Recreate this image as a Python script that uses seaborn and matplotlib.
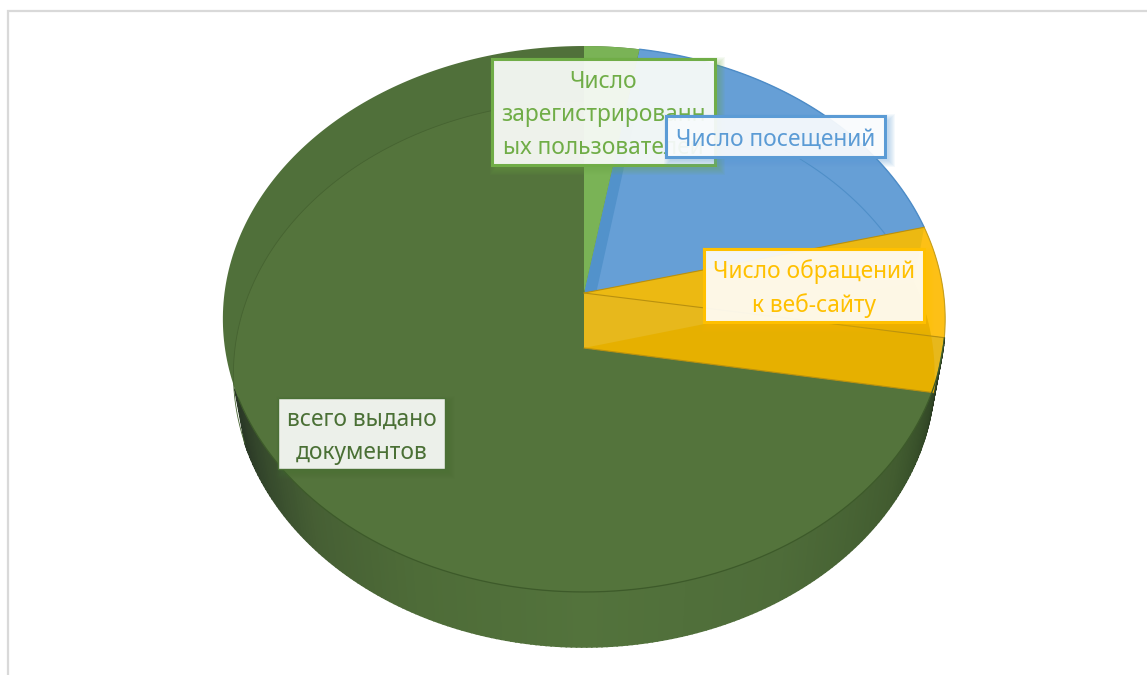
import numpy as np
import matplotlib.pyplot as plt
from matplotlib.patches import Polygon, Rectangle
import seaborn as sns

# slices clockwise from 12 o'clock (%)
labels = [
    "Число\nзарегистрированн\nых пользователей",
    "Число посещений",
    "Число обращений\nк веб-сайту",
    "всего выдано\nдокументов",
]
shares = [2.7, 18.3, 6.6, 72.4]
palette = sns.color_palette(["#7ab356", "#669fd6", "#ffc000", "#54743c"])
text_colors = ["#70ad47", "#5b9bd5", "#ffc000", "#4a7035"]

sns.set_theme(style="white")
plt.rcParams["font.family"] = ["Noto Sans", "DejaVu Sans"]

fig, ax = plt.subplots(figsize=(11.47, 6.75), dpi=100)
fig.subplots_adjust(0, 0, 1, 1)
ax.set_xlim(0, 1147)
ax.set_ylim(675, 0)
ax.axis("off")

CX = 584
TOP_Y, BOT_Y = 293, 348
TOP_W, BOT_W = 359.5, 349
H = 270.5
K = 0.0952


def rim(theta, apex_y, w):
    # perspective circle, theta in degrees clockwise from the top
    t = np.radians(theta)
    d = 1 + K * np.cos(t)
    return CX + w * np.sin(t) / d, apex_y - H * np.cos(t) / d


def top(theta):
    return rim(theta, TOP_Y, TOP_W)


def bot(theta):
    return rim(theta, BOT_Y, BOT_W)


def wedge(a, b, rim_fn, apex_y):
    x, y = rim_fn(np.linspace(a, b, 120))
    return np.column_stack([np.r_[CX, x], np.r_[apex_y, y]])


def wall(a):
    # radial wall of the slice edge at angle a
    tx, ty = top(a)
    bx, by = bot(a)
    return [[CX, TOP_Y], [tx, ty], [bx, by], [CX, BOT_Y]]


edges = np.cumsum([0] + shares) * 3.6
a_green, a_blue, a_orange = edges[1], edges[2], edges[3]

# frame of the screenshot
ax.plot([8, 8, 1147], [675, 11, 11], color="#d9d9d9", lw=1.6, solid_joinstyle="miter")

# outer wall of the big slice, shaded along the rim
stops_t = [a_orange, 110, 125, 150, 180, 205, 225, 238, 250]
stops_r = [30, 50, 66, 78, 83, 78, 70, 55, 42]
stops_g = [38, 72, 92, 108, 115, 108, 95, 75, 56]
stops_b = [25, 38, 48, 57, 60, 56, 52, 45, 38]
tw = np.linspace(a_orange, 250, 200)
for t0, t1 in zip(tw[:-1], tw[1:]):
    xa, ya = top(np.array([t0, t1]))
    xb, yb = bot(np.array([t1, t0]))
    tm = (t0 + t1) / 2
    c = np.array([np.interp(tm, stops_t, s) for s in (stops_r, stops_g, stops_b)]) / 255
    ax.fill(np.r_[xa, xb], np.r_[ya, yb], color=c, lw=1.2, zorder=1)

# top face of the big slice, a bit lighter where the bottom disc shows through
x, y = top(np.linspace(0, 360, 361))
top_disc = ax.fill(x, y, color="#50703a", lw=0, zorder=2)[0]
x, y = bot(np.linspace(0, 360, 361))
inner = ax.fill(x, y, color=palette[3], lw=0, zorder=3)[0]
inner.set_clip_path(top_disc)

# small slices
blue_face = Polygon(wedge(a_green, a_blue, top, TOP_Y), color=palette[1], lw=0, zorder=4)
ax.add_patch(blue_face)
strip = Polygon(wedge(0, a_green, bot, BOT_Y), color="#5292cb", lw=0, zorder=5)
ax.add_patch(strip)
strip.set_clip_path(blue_face)
ax.add_patch(Polygon(wedge(0, a_green, top, TOP_Y), color=palette[0], lw=0, zorder=6))

x, y = bot(np.linspace(a_green + 20, a_blue, 60))
ax.plot(x, y, color="#4f8fc8", lw=0.8, zorder=6)
x, y = top(np.linspace(a_green, a_blue, 80))
ax.plot(x, y, color="#4d8cc8", lw=1, zorder=6)

ax.add_patch(Polygon(wedge(a_blue, a_orange, top, TOP_Y), color="#fdc016", lw=0, zorder=7))
ax.add_patch(Polygon(wall(a_blue), color="#ecb912", lw=0, zorder=8))
ax.add_patch(Polygon(wall(a_orange), color="#e7b81c", lw=0, zorder=9))
ax.add_patch(Polygon(wedge(a_blue, a_orange, bot, BOT_Y), color="#e6b000", lw=0, zorder=10))

# slice edges
for a, rim_fn, apex_y in [(a_blue, top, TOP_Y), (a_orange, top, TOP_Y), (a_orange, bot, BOT_Y)]:
    ex, ey = rim_fn(a)
    ax.plot([CX, ex], [apex_y, ey], color="#b8900f", lw=0.8, zorder=11)
x, y = top(np.linspace(a_blue, a_orange, 40))
ax.plot(x, y, color="#c9a01c", lw=0.8, zorder=11)

# rim lines of the big slice
x, y = top(np.linspace(a_orange, 248, 200))
ax.plot(x, y, color="#3d5a2a", lw=0.9, zorder=11)
x, y = bot(np.linspace(250, 360, 110))
ax.plot(x, y, color="#466331", lw=0.6, zorder=11)
ax.plot([CX, CX], [46, BOT_Y], color="#4a6834", lw=0.5, zorder=5)


def label_box(x0, y0, x1, y1, txt, color, alpha, lw, z, shadow=0.06):
    # soft shadow made of growing rectangles, mostly to the lower right
    for i in range(1, 8):
        ax.add_patch(Rectangle((x0 + 5 - i, y0 + 5 - i), x1 - x0 + 2 * i - 2, y1 - y0 + 2 * i - 2,
                               color=color, alpha=shadow, lw=0, zorder=z))
    ax.add_patch(Rectangle((x0, y0), x1 - x0, y1 - y0, facecolor="white", alpha=alpha,
                           edgecolor="none", zorder=z))
    ax.add_patch(Rectangle((x0, y0), x1 - x0, y1 - y0, fill=False, edgecolor=color,
                           lw=lw, zorder=z))
    ax.text((x0 + x1) / 2, (y0 + y1) / 2 + 3, txt, color=color, ha="center", va="center",
            fontsize=16.4, linespacing=1.5, zorder=z)


label_box(492, 59, 715, 165, labels[0], text_colors[0], 0.9, 2.2, 20)
label_box(666, 116, 885, 157, labels[1], text_colors[1], 0.9, 2.2, 21)
label_box(704, 249, 924, 322, labels[2], text_colors[2], 0.9, 2.2, 22)
label_box(278, 398, 445, 469, labels[3], text_colors[3], 0.9, 1, 23)

fig.savefig("out.png", dpi=100)
